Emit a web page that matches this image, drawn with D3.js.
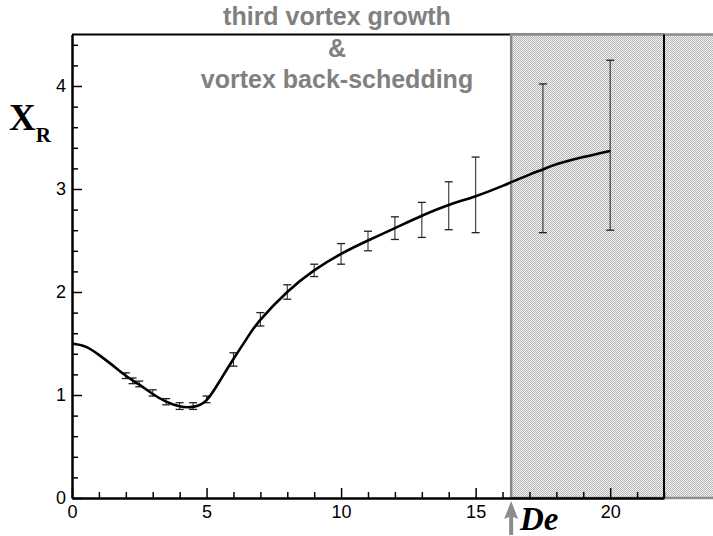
<!DOCTYPE html>
<html>
<head>
<meta charset="utf-8">
<script src="https://d3js.org/d3.v7.min.js"></script>
<style>
  body { margin: 0; background: #fff; }
  .tick text { font-family: "Liberation Sans", Arial, sans-serif; font-size: 18px; fill: #000; }
</style>
</head>
<body>
<div id="chart"></div>
<script>
// mean recirculation length X_R against De
var curveDe = [0, 0.5, 1, 1.5, 2, 2.5, 3, 3.5, 4, 4.5, 5, 5.5, 6, 6.5, 7, 8, 9, 10, 11, 12, 13, 14, 15, 16, 17, 17.5, 18, 19, 20];
var curveXR = [1.50, 1.47, 1.39, 1.29, 1.187, 1.10, 1.01, 0.935, 0.89, 0.885, 0.95, 1.14, 1.35, 1.55, 1.73, 2.0, 2.21, 2.37, 2.50, 2.62, 2.74, 2.845, 2.93, 3.03, 3.14, 3.19, 3.24, 3.31, 3.37];

// error bars (min / max)
var barDe = [2, 2.25, 2.5, 3, 3.5, 4, 4.5, 5, 6, 7, 8, 9, 10, 11, 12, 13, 14, 15, 17.5, 20];
var barLo = [1.16, 1.11, 1.08, 0.99, 0.905, 0.86, 0.86, 0.925, 1.28, 1.67, 1.93, 2.15, 2.27, 2.40, 2.51, 2.53, 2.605, 2.576, 2.576, 2.60];
var barHi = [1.215, 1.165, 1.135, 1.05, 0.965, 0.925, 0.925, 0.99, 1.41, 1.80, 2.07, 2.27, 2.47, 2.59, 2.73, 2.87, 3.07, 3.31, 4.02, 4.25];

var xMajor = [0, 5, 10, 15, 20];
var yMajor = [0, 1, 2, 3, 4];
var shadeStart = 16.32;
var titleLines = ["third vortex growth", "&", "vortex back-schedding"];

var W = 713, H = 536;
var x = d3.scaleLinear().domain([0, 22]).range([72, 664]);
var y = d3.scaleLinear().domain([0, 4.5]).range([498, 34.5]);

var svg = d3.select("#chart").append("svg")
  .attr("width", W).attr("height", H);

// zigzag dot pattern for the shaded zone
var defs = svg.append("defs");
var pat = defs.append("pattern")
  .attr("id", "hatch")
  .attr("patternUnits", "userSpaceOnUse")
  .attr("width", 4).attr("height", 4);
pat.append("rect").attr("width", 4).attr("height", 4).attr("fill", "#f2f2f2");
[[0, 0], [1, 1], [2, 0], [3, 1], [0, 2], [2, 2], [1, 3], [3, 3]].forEach(function(p, i) {
  pat.append("rect")
    .attr("x", p[0]).attr("y", p[1])
    .attr("width", 1).attr("height", 1)
    .attr("shape-rendering", "crispEdges")
    .attr("fill", i % 3 == 0 ? "#bdbdbd" : "#b2b2b2");
});

// top frame line
svg.append("line")
  .attr("x1", x(0)).attr("x2", x(22))
  .attr("y1", y(4.5)).attr("y2", y(4.5))
  .attr("stroke", "#000").attr("stroke-width", 2);

// shaded zone
svg.append("rect")
  .attr("x", x(shadeStart))
  .attr("y", y(4.5))
  .attr("width", W - x(shadeStart) + 10)
  .attr("height", y(0) - y(4.5))
  .attr("fill", "url(#hatch)")
  .attr("stroke", "#8c8c8c")
  .attr("stroke-width", 2.5);

// right frame line
svg.append("line")
  .attr("x1", x(22)).attr("x2", x(22))
  .attr("y1", y(4.5)).attr("y2", y(0))
  .attr("stroke", "#000").attr("stroke-width", 2);

// minor ticks
svg.append("g")
  .attr("transform", "translate(0," + y(0) + ")")
  .call(d3.axisBottom(x).tickValues(d3.range(0, 23).filter(function(d){ return d % 5 != 0; }))
    .tickSize(-6).tickFormat(""))
  .call(function(g){ g.select(".domain").remove(); });
svg.append("g")
  .attr("transform", "translate(" + x(0) + ",0)")
  .call(d3.axisLeft(y).tickValues(d3.range(0, 4.5, 0.2).filter(function(d){ return Math.abs(d - Math.round(d)) > 0.01; }))
    .tickSize(-6).tickFormat(""))
  .call(function(g){ g.select(".domain").remove(); });

// major axes
svg.append("g")
  .attr("transform", "translate(0," + y(0) + ")")
  .call(d3.axisBottom(x).tickValues(xMajor).tickSize(-10).tickSizeOuter(0).tickPadding(7).tickFormat(d3.format("d")));
svg.append("g")
  .attr("transform", "translate(" + x(0) + ",0)")
  .call(d3.axisLeft(y).tickValues(yMajor).tickSize(-10).tickSizeOuter(0).tickPadding(6).tickFormat(d3.format("d")));
svg.selectAll(".domain").attr("stroke-width", 2.5);
svg.selectAll(".tick line").attr("stroke-width", 1.5);

// error bars
var bars = svg.append("g");
barDe.forEach(function(d, i) {
  var cx = x(d);
  bars.append("line")
    .attr("x1", cx).attr("x2", cx)
    .attr("y1", y(barLo[i])).attr("y2", y(barHi[i]))
    .attr("stroke", "#333").attr("stroke-width", 1.1);
  [barLo[i], barHi[i]].forEach(function(v) {
    bars.append("line")
      .attr("x1", cx - 4).attr("x2", cx + 4)
      .attr("y1", y(v)).attr("y2", y(v))
      .attr("stroke", "#222").attr("stroke-width", 1.3);
  });
});

// main curve
var pts = curveDe.map(function(d, i) { return [d, curveXR[i]]; });
svg.append("path")
  .datum(pts)
  .attr("fill", "none")
  .attr("stroke", "#000")
  .attr("stroke-width", 2.6)
  .attr("d", d3.line()
    .x(function(d) { return x(d[0]); })
    .y(function(d) { return y(d[1]); })
    .curve(d3.curveNatural));

// annotation text
svg.append("g").selectAll("text")
  .data(titleLines)
  .enter().append("text")
  .attr("x", 337)
  .attr("y", function(d, i) { return 25 + i * 31.5; })
  .attr("text-anchor", "middle")
  .attr("font-family", "'Liberation Sans', Arial, sans-serif")
  .attr("font-weight", "bold")
  .attr("font-size", 25)
  .attr("fill", "#808080")
  .text(function(d) { return d; });

// arrow marking De threshold
var ax = x(shadeStart);
svg.append("path")
  .attr("d", "M" + ax + ",501 L" + (ax - 7) + ",519 L" + (ax - 2) + ",517 L" + (ax - 2) + ",535 L" + (ax + 2) + ",535 L" + (ax + 2) + ",517 L" + (ax + 7) + ",519 Z")
  .attr("fill", "#8c8c8c");

// axis titles
svg.append("text")
  .attr("x", 520).attr("y", 530)
  .attr("font-family", "'Liberation Serif', 'Times New Roman', serif")
  .attr("font-weight", "bold").attr("font-style", "italic")
  .attr("font-size", 33)
  .text("De");

var yl = svg.append("text")
  .attr("x", 9).attr("y", 130)
  .attr("font-family", "'Liberation Serif', 'Times New Roman', serif")
  .attr("font-weight", "bold");
yl.append("tspan").attr("font-size", 37).text("X");
yl.append("tspan").attr("font-size", 21).attr("dy", 12).text("R");
</script>
</body>
</html>
